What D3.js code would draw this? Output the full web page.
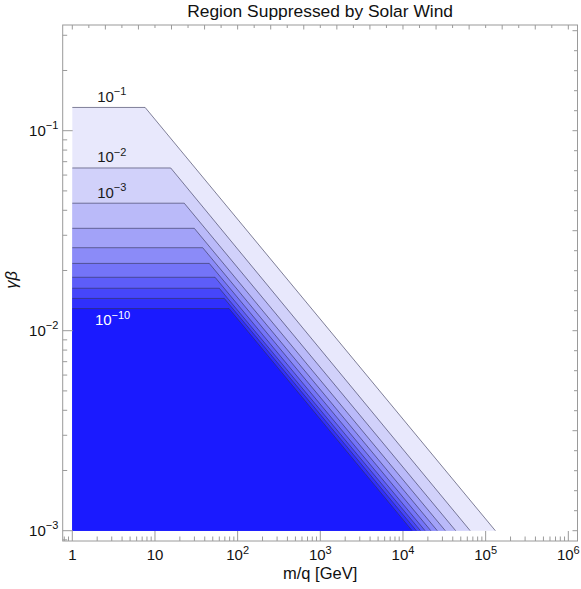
<!DOCTYPE html>
<html>
<head>
<meta charset="utf-8">
<script src="https://cdn.jsdelivr.net/npm/d3@7"></script>
<style>
  html, body { margin: 0; padding: 0; background: #fff; }
  svg { display: block; font-family: "Liberation Sans", Arial, sans-serif; }
</style>
</head>
<body>
<svg id="chart" width="581" height="589"></svg>
<script>
// ---------- data ----------
const titleText = "Region Suppressed by Solar Wind";
const xLabelText = "m/q [GeV]";
const xTickValues = [1, 10, 100, 1e3, 1e4, 1e5, 1e6];
const xTickLabels = [["1", null], ["10", null], ["10", "2"], ["10", "3"], ["10", "4"], ["10", "5"], ["10", "6"]];
const yTickValues = [1e-3, 1e-2, 1e-1];
const yTickLabels = [["10", "−3"], ["10", "−2"], ["10", "−1"]];

// contour levels (suppression factor) and their boundaries
const levelExponents = [-1, -2, -3, -4, -5, -6, -7, -8, -9, -10];
const plateauGB = [0.1307, 0.0651, 0.0434, 0.0325, 0.0260, 0.0217, 0.0185, 0.0163, 0.0145, 0.0129];
const breakMass = [7.6, 15.5, 22.6, 29.9, 37.8, 45.4, 53.3, 60.0, 69.0, 78.7];
const endMass = [1.31e5, 6.5e4, 4.34e4, 3.25e4, 2.6e4, 2.17e4, 1.85e4, 1.63e4, 1.45e4, 1.29e4];
const regionColors = ["#e8e8fc", "#d1d1fa", "#babaf9", "#a2a2f8", "#8b8bf8",
                      "#7474f8", "#5d5df9", "#4646fa", "#3030fc", "#1a1aff"];
const massMin = 1, gbMin = 1e-3;
const labelledLevels = [0, 1, 2, 9];

// ---------- scales ----------
const svg = d3.select("#chart");
const frame = { left: 62.7, right: 577.5, top: 25, bottom: 541 };
const x = d3.scaleLog()
  .domain([Math.pow(10, -0.1161), Math.pow(10, 6.111)])
  .range([frame.left, frame.right]);
const y = d3.scaleLog()
  .domain([Math.pow(10, -3.0515), Math.pow(10, -0.4715)])
  .range([frame.bottom, frame.top]);

// ---------- filled contour regions ----------
const line = d3.line().x(d => x(d[0])).y(d => y(d[1]));
const regions = levelExponents.map((e, i) => ({
  i,
  pts: [[massMin, gbMin], [massMin, plateauGB[i]], [breakMass[i], plateauGB[i]], [endMass[i], gbMin]]
}));
svg.append("g").selectAll("path.fill").data(regions).join("path")
  .attr("class", "fill")
  .attr("d", d => line(d.pts) + "Z")
  .attr("fill", d => regionColors[d.i])
  .attr("stroke", "none");
svg.append("g").selectAll("path.cline").data(regions).join("path")
  .attr("class", "cline")
  .attr("d", d => line(d.pts.slice(1)))
  .attr("fill", "none")
  .attr("stroke", "rgba(50,50,85,0.6)")
  .attr("stroke-width", 1);

// ---------- contour labels ----------
const clab = svg.append("g").attr("font-size", 15);
labelledLevels.forEach(i => {
  const inside = i === 9;
  const t = clab.append("text")
    .attr("x", x(2) + (inside ? -2.3 : 0))
    .attr("y", y(plateauGB[i]) + (inside ? 16.7 : -5.6))
    .attr("fill", inside ? "#ffffff" : "#1a1a1a");
  t.append("tspan").text("10");
  t.append("tspan").attr("dy", -6.5).attr("font-size", 11).text("−" + (-levelExponents[i]));
});

// ---------- frame and ticks ----------
const frameColor = "#9a9a9a";
const g = svg.append("g").attr("stroke", frameColor).attr("stroke-width", 1).attr("fill", "none");
g.append("rect")
  .attr("x", frame.left).attr("y", frame.top)
  .attr("width", frame.right - frame.left).attr("height", frame.bottom - frame.top);

const xd = x.domain(), yd = y.domain();
const xMinor = [], yMinor = [];
for (let k = -1; k <= 6; k++) for (let m = 2; m <= 9; m++) {
  const v = m * Math.pow(10, k);
  if (v > xd[0] && v < xd[1]) xMinor.push(v);
}
for (let k = -4; k <= 0; k++) for (let m = 2; m <= 9; m++) {
  const v = m * Math.pow(10, k);
  if (v > yd[0] && v < yd[1]) yMinor.push(v);
}
// bottom
xTickValues.forEach(v => g.append("line").attr("x1", x(v)).attr("x2", x(v)).attr("y1", frame.bottom).attr("y2", frame.bottom - 10));
xMinor.forEach(v => g.append("line").attr("x1", x(v)).attr("x2", x(v)).attr("y1", frame.bottom).attr("y2", frame.bottom - 4.5));
// left
yTickValues.forEach(v => g.append("line").attr("y1", y(v)).attr("y2", y(v)).attr("x1", frame.left).attr("x2", frame.left + 10));
yMinor.forEach(v => g.append("line").attr("y1", y(v)).attr("y2", y(v)).attr("x1", frame.left).attr("x2", frame.left + 4.5));
// top (unlabelled)
d3.range(0, 31).forEach(k => {
  const v = Math.pow(10, k * 0.2);
  if (v < xd[1]) g.append("line").attr("x1", x(v)).attr("x2", x(v)).attr("y1", frame.top).attr("y2", frame.top + (k % 2 === 0 ? 4.5 : 3));
});
// right (unlabelled)
d3.range(0, 27).forEach(k => {
  const v = Math.pow(10, -3 + k * 0.1);
  if (v < yd[1]) g.append("line").attr("y1", y(v)).attr("y2", y(v)).attr("x1", frame.right).attr("x2", frame.right - (k % 5 === 0 ? 5 : 3.5));
});

// ---------- tick labels ----------
const tl = svg.append("g").attr("font-size", 15).attr("fill", "#111");
xTickValues.forEach((v, i) => {
  const t = tl.append("text").attr("x", x(v)).attr("y", 560).attr("text-anchor", "middle");
  t.append("tspan").text(xTickLabels[i][0]);
  if (xTickLabels[i][1]) t.append("tspan").attr("dy", -6.5).attr("font-size", 11).text(xTickLabels[i][1]);
});
yTickValues.forEach((v, i) => {
  const t = tl.append("text").attr("x", 58.3).attr("y", y(v) + 5.2).attr("text-anchor", "end");
  t.append("tspan").text(yTickLabels[i][0]);
  t.append("tspan").attr("dy", -6.5).attr("font-size", 11).text(yTickLabels[i][1]);
});

// ---------- titles ----------
svg.append("text").attr("x", (frame.left + frame.right) / 2).attr("y", 17.3)
  .attr("text-anchor", "middle").attr("font-size", 17.4).attr("fill", "#111").text(titleText);
svg.append("text").attr("x", (frame.left + frame.right) / 2).attr("y", 578.5)
  .attr("text-anchor", "middle").attr("font-size", 16.5).attr("fill", "#111").text(xLabelText);
svg.append("text").attr("transform", "translate(17," + 280 + ") rotate(-90)")
  .attr("text-anchor", "middle").attr("font-size", 16.5).attr("font-style", "italic").attr("fill", "#111").text("γβ");
</script>
</body>
</html>
